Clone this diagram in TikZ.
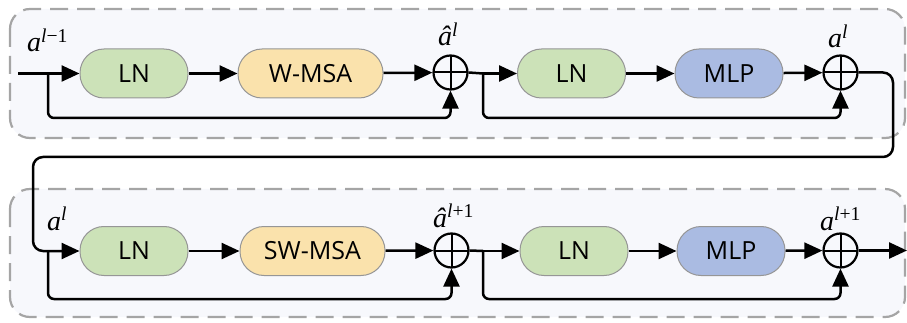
\documentclass[tikz,border=0pt]{standalone}
\usepackage{fontspec}
\setmainfont{Liberation Serif}
\newfontfamily\boxfont{Open Sans}
\usetikzlibrary{arrows.meta}
\definecolor{lngreen}{RGB}{204,226,184}
\definecolor{msaorange}{RGB}{250,226,172}
\definecolor{mlpblue}{RGB}{170,187,226}
\definecolor{panelfill}{RGB}{247,248,252}
\definecolor{panelline}{RGB}{165,165,165}
\definecolor{boxline}{RGB}{150,150,150}
\begin{document}
\begin{tikzpicture}[x=1pt,y=-1pt,
  panel/.style={draw=panelline, fill=panelfill, line width=2.2pt, rounded corners=20pt, dash pattern=on 18pt off 9pt},
  block/.style={draw=boxline, line width=1pt, rounded corners=24pt, minimum height=49pt, inner sep=0pt, font=\boxfont\fontsize{25}{25}\selectfont},
  lnbox/.style={block, fill=lngreen, minimum width=108pt},
  msabox/.style={block, fill=msaorange, minimum width=145pt},
  mlpbox/.style={block, fill=mlpblue, minimum width=108pt},
  addnode/.style={circle, draw, line width=2.2pt, minimum size=34pt, inner sep=0pt,
    path picture={\draw[line width=2pt] (path picture bounding box.north) -- (path picture bounding box.south)
      (path picture bounding box.west) -- (path picture bounding box.east);}},
  conn/.style={line width=2.5pt, -{Triangle[length=18pt,width=16pt]}},
  wire/.style={line width=2.5pt},
  lbl/.style={anchor=base west, inner sep=0pt, font=\fontsize{28}{28}\selectfont}
]
\useasboundingbox (0,0) rectangle (907,323);
% panels
\draw[panel] (10,9) rectangle (905,138);
\draw[panel] (10,189) rectangle (905,317);

% top row nodes
\node[lnbox] (ln1) at (134,73.5) {LN};
\node[msabox] (msa1) at (310.5,73.5) {W-MSA};
\node[addnode] (c1) at (450.5,72.5) {};
\node[lnbox] (ln2) at (571.5,73.5) {LN};
\node[mlpbox] (mlp1) at (729,73.5) {MLP};
\node[addnode] (c2) at (840.5,72.5) {};

% bottom row nodes
\node[lnbox] (ln3) at (134,251) {LN};
\node[msabox] (msa2) at (312.5,251) {SW-MSA};
\node[addnode] (c3) at (451.5,250.5) {};
\node[lnbox] (ln4) at (574,251) {LN};
\node[mlpbox] (mlp2) at (731,251) {MLP};
\node[addnode] (c4) at (840.5,250.5) {};

% coordinates
\coordinate (in1) at (18,73.5);
\coordinate (b1) at (48,73.5);
\coordinate (b2) at (483,73.5);
\coordinate (f1) at (0,118);
\coordinate (b3) at (48,251);
\coordinate (b4) at (483,251);
\coordinate (f2) at (0,299);
\coordinate (r1) at (893,157);
\coordinate (l1) at (33,157);
\coordinate (out) at (907,250.5);

% top row connectors
\draw[conn] (in1) -- (ln1.west);
\draw[conn] (ln1) -- (msa1);
\draw[conn] (msa1) -- (c1);
\draw[wire] (c1.east) -- (b2);
\draw[conn] (b2) -- (ln2.west);
\draw[conn] (ln2) -- (mlp1);
\draw[conn] (mlp1) -- (c2);
\draw[conn, rounded corners=6pt] (b1) -- (b1 |- f1) -- (c1 |- f1) -- (c1.south);
\draw[conn, rounded corners=6pt] (b2) -- (b2 |- f1) -- (c2 |- f1) -- (c2.south);

% link between rows
\draw[conn, rounded corners=10pt] (c2.east) -- (r1 |- c2) -- (r1) -- (l1) -- (l1 |- ln3) -- (ln3.west);

% bottom row connectors
\draw[conn] (ln3) -- (msa2);
\draw[conn] (msa2) -- (c3);
\draw[wire] (c3.east) -- (b4);
\draw[conn] (b4) -- (ln4.west);
\draw[conn] (ln4) -- (mlp2);
\draw[conn] (mlp2) -- (c4);
\draw[conn] (c4.east) -- (out);
\draw[conn, rounded corners=6pt] (b3) -- (b3 |- f2) -- (c3 |- f2) -- (c3.south);
\draw[conn, rounded corners=6pt] (b4) -- (b4 |- f2) -- (c4 |- f2) -- (c4.south);

% labels
\node[lbl] (t1) at (27,52) {\itshape a\textsuperscript{l\upshape −1}};
\node[lbl] (t2) at (438,46) {\itshape â\textsuperscript{l}};
\node[lbl] (t3) at (828,48) {\itshape a\textsuperscript{l}};
\node[lbl] (t4) at (47,230) {\itshape a\textsuperscript{l}};
\node[lbl] (t5) at (433,227) {\itshape â\textsuperscript{l\upshape +1}};
\node[lbl] (t6) at (820,230) {\itshape a\textsuperscript{l\upshape +1}};
\end{tikzpicture}
\end{document}
